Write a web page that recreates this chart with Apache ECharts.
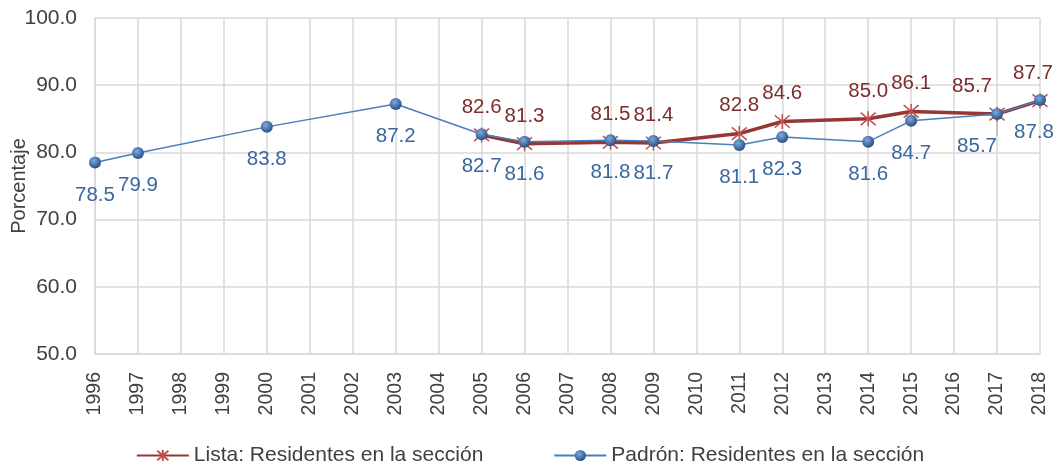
<!DOCTYPE html>
<html>
<head>
<meta charset="utf-8">
<script src="https://cdn.jsdelivr.net/npm/echarts@6/dist/echarts.min.js"></script>
<style>
  html, body { margin: 0; padding: 0; background: #fff; }
  #chart { width: 1060px; height: 468px; }
</style>
</head>
<body>
<div id="chart"></div>
<script>
// años (eje x)
var years = ['1996', '1997', '1998', '1999', '2000', '2001', '2002', '2003', '2004', '2005', '2006', '2007',
  '2008', '2009', '2010', '2011', '2012', '2013', '2014', '2015', '2016', '2017', '2018'];
// Lista: Residentes en la sección
var lista = [null, null, null, null, null, null, null, null, null, 82.6, 81.3, null,
  81.5, 81.4, null, 82.8, 84.6, null, 85.0, 86.1, null, 85.7, 87.7];
// Padrón: Residentes en la sección
var padron = [78.5, 79.9, null, null, 83.8, null, null, 87.2, null, 82.7, 81.6, null,
  81.8, 81.7, null, 81.1, 82.3, null, 81.6, 84.7, null, 85.7, 87.8];
var yTicks = [50, 60, 70, 80, 90, 100];

var font = 'Liberation Sans, Arial, sans-serif';

// desplazamientos de etiquetas que en el original no están centradas
var listaOffsets = { 21: [-25, 0], 22: [-7, 0] };
var padronOffsets = { 21: [-20, 0], 22: [-6, 0] };

function buildData(values, offsets, guide) {
  return values.map(function (v, i) {
    if (v == null) return null;
    var item = { value: v };
    if (offsets[i]) item.label = { offset: offsets[i] };
    if (guide === i) item.labelLine = { show: true, lineStyle: { color: '#a6a6a6', width: 1 } };
    return item;
  });
}

var starPath = 'path://M0,0 L10,10 M10,0 L0,10 M5,-1 L5,11';

var chart = echarts.init(document.getElementById('chart'));
chart.setOption({
  animation: false,
  textStyle: { fontFamily: font },
  grid: { left: 95, right: 20, top: 18, bottom: 114, outerBoundsMode: 'none' },
  legend: {
    bottom: 2,
    left: 'center',
    padding: 0,
    itemWidth: 52,
    itemHeight: 14,
    itemGap: 70,
    textStyle: { fontSize: 21, color: '#404040', fontFamily: font },
    data: ['Lista: Residentes en la sección', 'Padrón: Residentes en la sección']
  },
  xAxis: {
    type: 'category',
    data: years,
    boundaryGap: false,
    axisLine: { lineStyle: { color: '#d9d9d9', width: 1.5 } },
    axisTick: { show: false },
    splitLine: { show: true, lineStyle: { color: '#d9d9d9', width: 1.5 } },
    axisLabel: { rotate: 90, interval: 0, margin: 18, fontSize: 19.5, color: '#404040', fontFamily: font }
  },
  yAxis: {
    type: 'value',
    min: yTicks[0],
    max: yTicks[yTicks.length - 1],
    interval: 10,
    name: 'Porcentaje',
    nameLocation: 'middle',
    nameGap: 66,
    nameMoveOverlap: false,
    nameTextStyle: { fontSize: 20, color: '#404040', fontFamily: font },
    axisLine: { show: true, lineStyle: { color: '#d9d9d9', width: 1.5 } },
    axisTick: { show: false },
    splitLine: { lineStyle: { color: '#d9d9d9', width: 1.5 } },
    axisLabel: {
      margin: 18, fontSize: 21, color: '#404040', fontFamily: font,
      formatter: function (v) { return v.toFixed(1); }
    }
  },
  series: [
    {
      name: 'Lista: Residentes en la sección',
      type: 'line',
      connectNulls: true,
      data: buildData(lista, listaOffsets, -1),
      symbol: starPath,
      symbolSize: 15,
      lineStyle: { color: '#953735', width: 3.5 },
      itemStyle: { color: 'rgba(0,0,0,0)', borderColor: '#c0504d', borderWidth: 1.5 },
      label: {
        show: true, position: 'top', distance: 9, fontSize: 20.5, color: '#7b2c2c', fontFamily: font,
        formatter: function (p) { return p.value.toFixed(1); }
      }
    },
    {
      name: 'Padrón: Residentes en la sección',
      type: 'line',
      connectNulls: true,
      data: buildData(padron, padronOffsets, 21),
      symbol: 'circle',
      symbolSize: 12,
      lineStyle: { color: '#4a7ebb', width: 1.5 },
      itemStyle: {
        color: {
          type: 'radial', x: 0.4, y: 0.35, r: 0.7,
          colorStops: [{ offset: 0, color: '#7fa9dc' }, { offset: 1, color: '#1f4a80' }]
        }
      },
      label: {
        show: true, position: 'bottom', distance: 16, fontSize: 20.5, color: '#3a679e', fontFamily: font,
        formatter: function (p) { return p.value.toFixed(1); }
      }
    }
  ]
});
</script>
</body>
</html>
